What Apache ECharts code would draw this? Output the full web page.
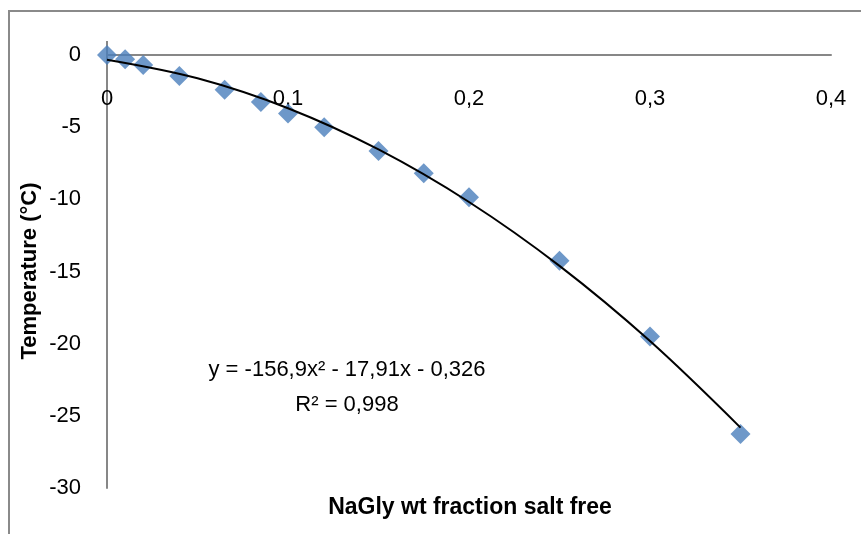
<!DOCTYPE html>
<html>
<head>
<meta charset="utf-8">
<script src="https://cdn.jsdelivr.net/npm/echarts@6/dist/echarts.min.js"></script>
<style>
html,body{margin:0;padding:0;background:#fff;}
#c{width:861px;height:534px;}
</style>
</head>
<body>
<div id="c"></div>
<script>
// Measured points
var fractions = [0, 0.01, 0.02, 0.04, 0.065, 0.085, 0.1, 0.12, 0.15, 0.175, 0.2, 0.25, 0.3, 0.35];
var temperatures = [0, -0.3, -0.7, -1.45, -2.4, -3.25, -4.05, -5.0, -6.65, -8.2, -9.85, -14.25, -19.5, -26.25];
// Polynomial trendline as drawn
var trendX = [0, 0.05, 0.1, 0.15, 0.2, 0.25, 0.3, 0.35];
var trendY = [-0.326, -1.614, -3.686, -6.543, -10.184, -14.610, -19.820, -25.815];
// Tick settings
var xTicks = [0, 0.1, 0.2, 0.3, 0.4];
var yTicks = [-30, -25, -20, -15, -10, -5, 0];
var xTitle = 'NaGly wt fraction salt free';
var yTitle = 'Temperature (°C)';
var equationLines = ['y = -156,9x² - 17,91x - 0,326', 'R² = 0,998'];

var font = '"Liberation Sans", Arial, sans-serif';
var chart = echarts.init(document.getElementById('c'), null, {renderer: 'canvas'});

var points = fractions.map(function (x, i) { return [x, temperatures[i]]; });
var trend = trendX.map(function (x, i) { return [x, trendY[i]]; });

chart.setOption({
  animation: false,
  backgroundColor: '#ffffff',
  grid: {left: 107, right: 30, top: 55, bottom: 46, containLabel: false},
  xAxis: {
    type: 'value',
    position: 'top',
    min: xTicks[0], max: xTicks[xTicks.length - 1], interval: 0.1,
    axisLine: {show: true, onZero: false, lineStyle: {color: '#878787', width: 2}},
    axisTick: {show: false},
    splitLine: {show: false},
    axisLabel: {
      inside: true, margin: 33, color: '#000', fontFamily: font, fontSize: 22,
      formatter: function (v) { return String(Math.round(v * 10) / 10).replace('.', ','); }
    }
  },
  yAxis: {
    type: 'value',
    min: yTicks[0], max: yTicks[yTicks.length - 1], interval: 5,
    axisLine: {show: true, onZero: false, lineStyle: {color: '#878787', width: 2}},
    axisTick: {show: false},
    splitLine: {show: false},
    axisLabel: {margin: 26, color: '#000', fontFamily: font, fontSize: 22}
  },
  graphic: [
    {type: 'rect', silent: true, shape: {x: 9, y: 11, width: 1000, height: 1000},
     style: {fill: 'none', stroke: '#8a8a8a', lineWidth: 2}},
    {type: 'line', silent: true, shape: {x1: 107, y1: 41, x2: 107, y2: 55},
     style: {stroke: '#878787', lineWidth: 2}},
    {type: 'text', x: 470, y: 508,
     style: {text: xTitle, font: 'bold 23px ' + font, fill: '#000', align: 'center', verticalAlign: 'middle'}},
    {type: 'text', x: 30, y: 271, rotation: Math.PI / 2,
     style: {text: yTitle, font: 'bold 22px ' + font, fill: '#000', align: 'center', verticalAlign: 'middle'}},
    {type: 'text', x: 347, y: 370,
     style: {text: equationLines[0], font: '22px ' + font, fill: '#000', align: 'center', verticalAlign: 'middle'}},
    {type: 'text', x: 347, y: 405,
     style: {text: equationLines[1], font: '22px ' + font, fill: '#000', align: 'center', verticalAlign: 'middle'}}
  ],
  series: [
    {
      type: 'line', data: trend, smooth: 0.35, showSymbol: false, symbol: 'none',
      lineStyle: {color: '#000', width: 2}, z: 3
    },
    {
      type: 'scatter', data: points, symbol: 'diamond', symbolSize: [20, 20],
      itemStyle: {color: '#4a7ebb'}, z: 2
    }
  ]
});
</script>
</body>
</html>
